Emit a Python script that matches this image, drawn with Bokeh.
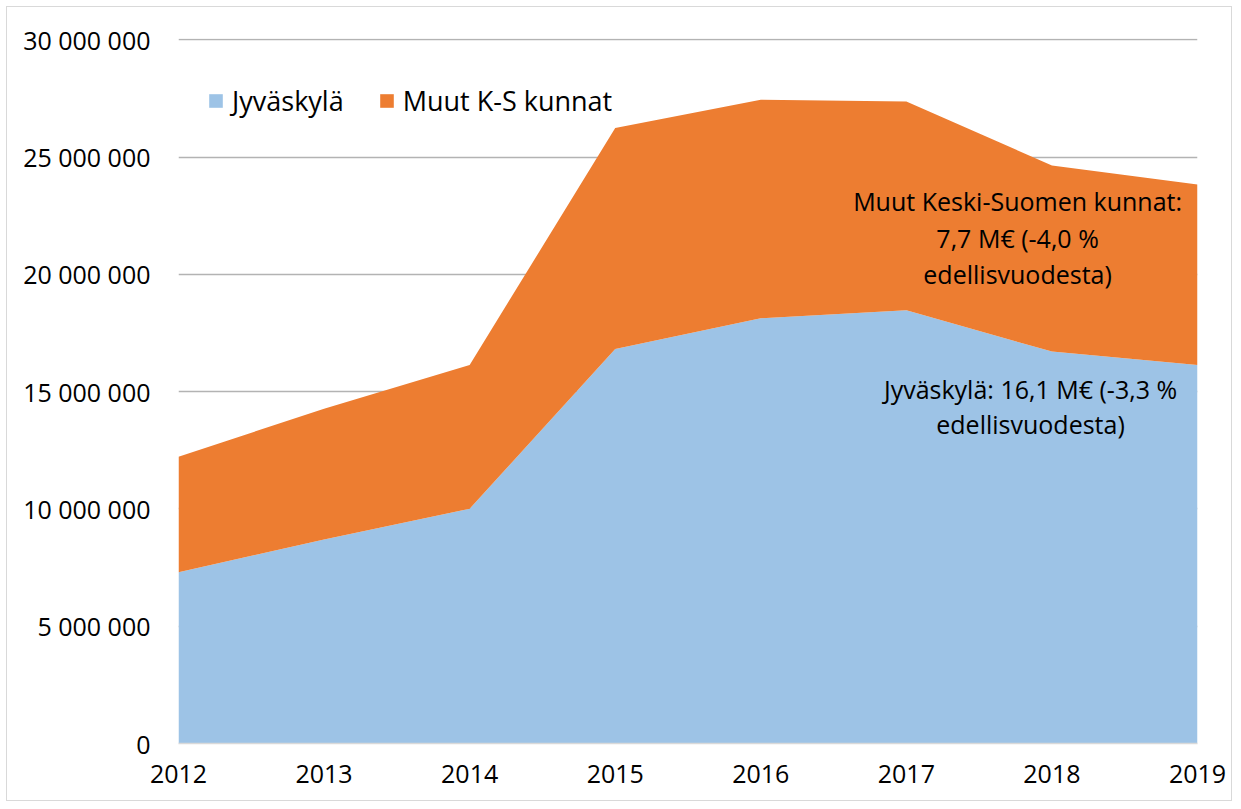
from bokeh.plotting import figure
from bokeh.models import ColumnDataSource, Range1d, FixedTicker, Legend, LegendItem, Label
from bokeh.embed import file_html
from bokeh.resources import INLINE

years = [2012, 2013, 2014, 2015, 2016, 2017, 2018, 2019]
jyvaskyla = [7.30e6, 8.70e6, 10.01e6, 16.82e6, 18.13e6, 18.47e6, 16.71e6, 16.14e6]
muut = [4.93e6, 5.57e6, 6.13e6, 9.42e6, 9.32e6, 8.90e6, 7.94e6, 7.69e6]
y_ticks = [0, 5e6, 10e6, 15e6, 20e6, 25e6, 30e6]
y_tick_labels = ["0", "5 000 000", "10 000 000", "15 000 000", "20 000 000", "25 000 000", "30 000 000"]
series_names = ["Jyväskylä", "Muut K-S kunnat"]
colors = ["#9DC3E6", "#ED7D31"]

FONT = "Open Sans"
FS = "25px"

src = ColumnDataSource(dict(year=years, jkl=jyvaskyla, muut=muut))

p = figure(width=1226, height=795, output_backend="svg", toolbar_location=None,
           x_range=Range1d(years[0], years[-1]), y_range=Range1d(0, 30.06e6),
           min_border_left=171, min_border_right=36, min_border_top=31, min_border_bottom=59)
p.styles = {"border": "1px solid #d9d9d9", "margin-left": "6px", "margin-top": "6px"}
p.outline_line_color = None
p.background_fill_color = "white"

rs = p.varea_stack(["jkl", "muut"], x="year", color=colors, source=src)

p.xgrid.visible = False
p.ygrid.grid_line_color = "#b3b3b3"
p.ygrid.grid_line_width = 1.5

p.yaxis.ticker = FixedTicker(ticks=y_ticks)
p.yaxis.major_label_overrides = {t: l for t, l in zip(y_ticks, y_tick_labels)}
p.xaxis.ticker = FixedTicker(ticks=years)
p.xaxis.major_label_overrides = {y: str(y) for y in years}
for ax in (p.xaxis, p.yaxis):
    ax.major_tick_line_color = None
    ax.minor_tick_line_color = None
    ax.major_label_text_font = FONT
    ax.major_label_text_font_size = FS
    ax.major_label_text_color = "black"
p.yaxis.axis_line_color = None
p.xaxis.axis_line_color = "#d9d9d9"
p.xaxis.axis_line_width = 1.5
p.yaxis.major_label_standoff = 22
p.xaxis.major_label_standoff = 15

legend = Legend(items=[LegendItem(label=series_names[0], renderers=[rs[0]]),
                       LegendItem(label=series_names[1], renderers=[rs[1]])],
                orientation="horizontal", location=(29, 624))
legend.background_fill_alpha = 0
legend.border_line_color = None
legend.padding = 0
legend.spacing = 34
legend.label_standoff = 8
legend.glyph_width = 17
legend.glyph_height = 17
legend.label_text_font = FONT
legend.label_text_font_size = "27px"
legend.label_text_color = "black"
p.add_layout(legend)

ann = [
    ("Muut Keski-Suomen kunnat:", 2017.764, 23.12e6),
    ("7,7 M€ (-4,0 %", 2017.764, 21.54e6),
    ("edellisvuodesta)", 2017.764, 20.01e6),
    ("Jyväskylä: 16,1 M€ (-3,3 %", 2017.853, 15.12e6),
    ("edellisvuodesta)", 2017.853, 13.63e6),
]
for t, x, y in ann:
    p.add_layout(Label(x=x, y=y, text=t, text_align="center", text_baseline="middle",
                       text_font=FONT, text_font_size=FS, text_color="black"))

open("out.html", "w").write(file_html(p, INLINE))
